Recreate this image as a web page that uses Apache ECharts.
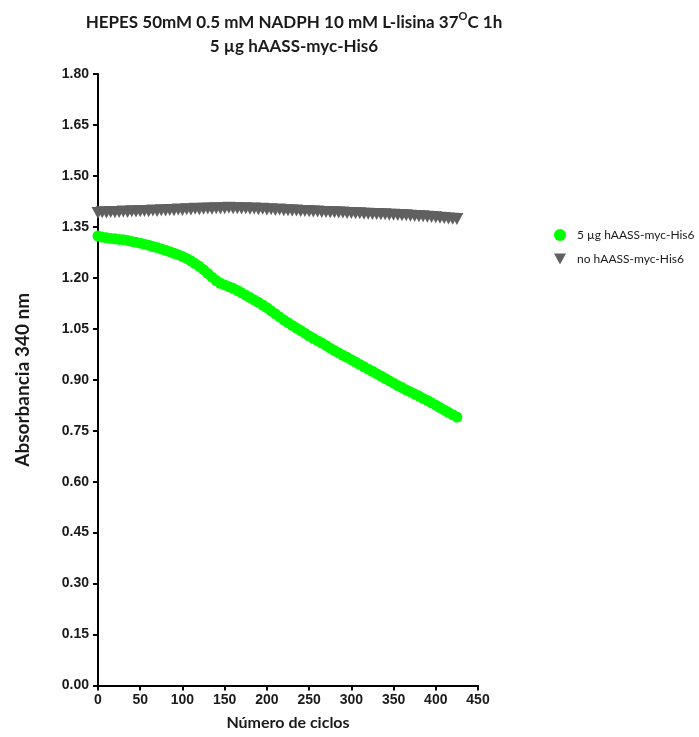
<!DOCTYPE html>
<html>
<head>
<meta charset="utf-8">
<script src="https://cdn.jsdelivr.net/npm/echarts@6/dist/echarts.min.js"></script>
<style>
  html, body { margin: 0; padding: 0; background: #ffffff; }
  #chart { width: 699px; height: 737px; }
</style>
</head>
<body>
<div id="chart"></div>
<script>
// Reading cycle (x) for each absorbance sample
const cycles = [
  0, 5, 10, 15, 20, 25, 30, 35, 40, 45, 50, 55, 60, 65, 70, 75, 80, 85, 90, 95,
  100, 105, 110, 115, 120, 125, 130, 135, 140, 145, 150, 155, 160, 165, 170, 175, 180, 185, 190, 195,
  200, 205, 210, 215, 220, 225, 230, 235, 240, 245, 250, 255, 260, 265, 270, 275, 280, 285, 290, 295,
  300, 305, 310, 315, 320, 325, 330, 335, 340, 345, 350, 355, 360, 365, 370, 375, 380, 385, 390, 395,
  400, 405, 410, 415, 420, 425
];

// Absorbance at 340 nm with 5 µg enzyme
const withEnzyme = [
  1.323, 1.320, 1.318, 1.316, 1.315, 1.313, 1.312, 1.310, 1.307, 1.305,
  1.302, 1.299, 1.296, 1.292, 1.289, 1.285, 1.281, 1.277, 1.272, 1.268,
  1.263, 1.257, 1.250, 1.242, 1.234, 1.224, 1.213, 1.202, 1.192, 1.184,
  1.179, 1.174, 1.169, 1.163, 1.156, 1.149, 1.142, 1.135, 1.128, 1.120,
  1.112, 1.103, 1.094, 1.085, 1.076, 1.068, 1.060, 1.052, 1.045, 1.037,
  1.029, 1.022, 1.015, 1.008, 1.001, 0.993, 0.986, 0.979, 0.972, 0.966,
  0.959, 0.952, 0.945, 0.938, 0.931, 0.925, 0.918, 0.911, 0.904, 0.897,
  0.890, 0.883, 0.877, 0.870, 0.864, 0.858, 0.852, 0.845, 0.839, 0.832,
  0.825, 0.818, 0.811, 0.804, 0.797, 0.790
];

// Absorbance at 340 nm without enzyme
const noEnzyme = [
  1.391, 1.393, 1.392, 1.394, 1.393, 1.394, 1.395, 1.394, 1.396, 1.395,
  1.396, 1.397, 1.396, 1.398, 1.397, 1.399, 1.398, 1.400, 1.399, 1.401,
  1.400, 1.402, 1.401, 1.403, 1.402, 1.403, 1.404, 1.403, 1.405, 1.404,
  1.405, 1.406, 1.405, 1.405, 1.404, 1.405, 1.403, 1.404, 1.402, 1.403,
  1.401, 1.402, 1.400, 1.401, 1.399, 1.399, 1.398, 1.398, 1.397, 1.397,
  1.396, 1.395, 1.395, 1.394, 1.394, 1.393, 1.393, 1.392, 1.392, 1.391,
  1.391, 1.390, 1.390, 1.389, 1.389, 1.388, 1.388, 1.387, 1.387, 1.386,
  1.386, 1.385, 1.384, 1.384, 1.383, 1.382, 1.381, 1.381, 1.380, 1.379,
  1.378, 1.377, 1.376, 1.375, 1.374, 1.373
];

const seriesNames = ['5 \u00b5g hAASS-myc-His6', 'no hAASS-myc-His6'];

const titleLine1 = 'HEPES 50mM 0.5 mM NADPH 10 mM L-lisina 37{sup|O}C 1h';
const titleLine2 = '5 \u00b5g hAASS-myc-His6';

const downTriangle = 'path://M0,0 L10,0 L5,9 Z';

const pairs = (ys) => cycles.map((c, i) => [c, ys[i]]);

const chart = echarts.init(document.getElementById('chart'), null, { renderer: 'canvas' });

const axisText = {
  fontFamily: 'Liberation Sans, Arial, sans-serif',
  fontWeight: 'bold',
  fontSize: 14,
  color: '#1a1a1a'
};

chart.setOption({
  backgroundColor: '#ffffff',
  animation: false,
  title: {
    text: titleLine1 + '\n' + titleLine2,
    left: 289,
    textAlign: 'center',
    top: 6,
    textStyle: {
      fontFamily: 'Lato, sans-serif',
      fontWeight: 'bold',
      fontSize: 17,
      color: '#1a1a1a',
      lineHeight: 24,
      rich: {
        sup: {
          fontFamily: 'Lato, sans-serif',
          fontWeight: 'bold',
          fontSize: 11,
          verticalAlign: 'top',
          padding: [0, 0, 8, 0],
          color: '#1a1a1a'
        }
      }
    }
  },
  legend: {
    orient: 'vertical',
    left: 549,
    top: 224,
    itemGap: 12,
    itemWidth: 12,
    itemHeight: 12,
    textStyle: {
      fontFamily: 'Lato, sans-serif',
      fontSize: 12,
      color: '#1a1a1a',
      padding: [0, 0, 0, 6]
    },
    data: [
      { name: seriesNames[0], icon: 'circle' },
      { name: seriesNames[1], icon: downTriangle }
    ]
  },
  grid: {
    left: 98,
    right: 221,
    top: 74,
    bottom: 51.5,
    containLabel: false
  },
  xAxis: {
    type: 'value',
    min: 0,
    max: 450,
    interval: 50,
    name: 'N\u00famero de ciclos',
    nameLocation: 'middle',
    nameGap: 29,
    nameTextStyle: {
      fontFamily: 'Lato, sans-serif',
      fontWeight: 'bold',
      fontSize: 16,
      color: '#1a1a1a'
    },
    axisLine: { show: true, onZero: false, lineStyle: { color: '#000', width: 2 } },
    axisTick: { show: true, inside: false, length: 5, lineStyle: { color: '#000', width: 2 } },
    axisLabel: Object.assign({ margin: 8 }, axisText),
    splitLine: { show: false }
  },
  yAxis: {
    type: 'value',
    min: 0,
    max: 1.8,
    interval: 0.15,
    name: 'Absorbancia 340 nm',
    nameLocation: 'middle',
    nameGap: 66,
    nameTextStyle: {
      fontFamily: 'Lato, sans-serif',
      fontWeight: 'bold',
      fontSize: 19,
      color: '#1a1a1a'
    },
    axisLine: { show: true, onZero: false, lineStyle: { color: '#000', width: 2 } },
    axisTick: { show: true, inside: false, length: 5, lineStyle: { color: '#000', width: 2 } },
    axisLabel: Object.assign({
      margin: 9,
      formatter: (v) => v.toFixed(2)
    }, axisText),
    splitLine: { show: false }
  },
  series: [
    {
      name: seriesNames[0],
      type: 'scatter',
      symbol: 'circle',
      symbolSize: 11,
      itemStyle: { color: '#00ff00', opacity: 1 },
      data: pairs(withEnzyme),
      z: 3
    },
    {
      name: seriesNames[1],
      type: 'scatter',
      symbol: downTriangle,
      symbolSize: [13, 12],
      itemStyle: { color: '#606060', opacity: 1 },
      data: pairs(noEnzyme),
      z: 2
    }
  ]
});
</script>
</body>
</html>
